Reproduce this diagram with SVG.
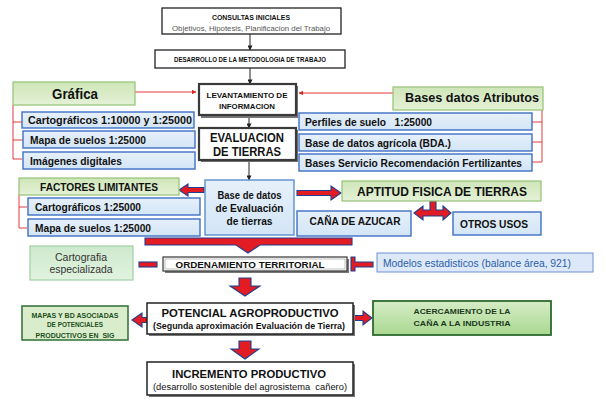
<svg xmlns="http://www.w3.org/2000/svg" width="605" height="404" viewBox="0 0 605 404">
<defs>
<linearGradient id="gGreen" x1="0" y1="0" x2="0" y2="1"><stop offset="0" stop-color="#cfe6b8"/><stop offset="1" stop-color="#e4f1d6"/></linearGradient>
<linearGradient id="gMint" x1="0" y1="0" x2="0" y2="1"><stop offset="0" stop-color="#cde9cd"/><stop offset="1" stop-color="#e2f3df"/></linearGradient>
<linearGradient id="gDeep" x1="0" y1="0" x2="0" y2="1"><stop offset="0" stop-color="#d6ecc6"/><stop offset="1" stop-color="#a9d890"/></linearGradient>
<linearGradient id="gBlue" x1="0" y1="0" x2="0" y2="1"><stop offset="0" stop-color="#e6f0fa"/><stop offset="1" stop-color="#d3e5f6"/></linearGradient>
<marker id="ab" viewBox="0 0 6 6" refX="5.5" refY="3" markerWidth="5" markerHeight="5" orient="auto"><path d="M0,0 L6,3 L0,6 z" fill="#222"/></marker>
<marker id="ar" viewBox="0 0 6 6" refX="5.5" refY="3" markerWidth="5" markerHeight="5" orient="auto"><path d="M0,0 L6,3 L0,6 z" fill="#e02424"/></marker>
</defs>
<style>
text{font-family:"Liberation Sans",Arial,sans-serif;text-anchor:middle;fill:#111;white-space:pre}
.b{font-weight:bold}
.blk{fill:#fff;stroke:#222;stroke-width:1.3}
.thk{fill:#fff;stroke:#3a3a3a;stroke-width:2.2}
.sh{fill:#777}
.grn{fill:url(#gGreen);stroke:#93c275;stroke-width:1.2}
.mint{fill:url(#gMint);stroke:#9fd0a5;stroke-width:1.2}
.dgrn{fill:#d9edcc;stroke:#2f6e35;stroke-width:1.5}
.deep{fill:url(#gDeep);stroke:#2d6a2d;stroke-width:1.8}
.blu{fill:url(#gBlue);stroke:#3f6fc4;stroke-width:1.4}
.fat{fill:#e31b23;stroke:#1f3f8f;stroke-width:1.1}
.thin{stroke:#222;stroke-width:1;fill:none;marker-end:url(#ab)}
.red{stroke:#e02424;stroke-width:0.9;fill:none}
.lt{text-anchor:start}
</style>

<g id="connectors">
<line class="thin" x1="250" y1="34" x2="250" y2="50"/>
<line class="thin" x1="250" y1="68" x2="250" y2="84"/>
<line class="thin" x1="249" y1="116" x2="249" y2="128"/>
<line class="thin" x1="249" y1="161" x2="249" y2="180"/>
<line class="red" x1="135" y1="92" x2="196" y2="92" style="marker-end:url(#ar)"/>
<line class="red" x1="393" y1="93" x2="299" y2="93" style="marker-end:url(#ar)"/>
<path class="red" d="M13,105 V159 H22 M13,122 H22 M13,140 H23"/>
<path class="red" d="M542,110 V162 H532 M542,122 H532 M542,142 H532"/>
<path class="red" d="M19,195 V228 H27 M19,207 H27"/>
<polygon class="fat" points="179,190 188,184 188,187.5 204,187.5 204,192.5 188,192.5 188,196"/>
<polygon class="fat" points="297,190.5 331,190.5 331,186 341,193 331,200 331,195.5 297,195.5"/>
<polygon class="fat" points="414,213 423,206 423,210 430,210 430,201 436,201 436,210 443,210 443,206 451,213 443,220 443,216 423,216 423,220"/>
<polygon class="fat" points="145,238 352,238 352,245 260,245 248,253 236,245 145,245"/>
<rect class="fat" x="139" y="262" width="18" height="5"/>
<polygon class="fat" points="351,257 355,257 355,262 373,262 373,267 355,267 355,271 351,271"/>
<polygon class="fat" points="239,278 251,278 251,286 260,286 245,296 230,286 239,286"/>
<polygon class="fat" points="239,341 251,341 251,349 259,349 245,359 231,349 239,349"/>
<polygon class="fat" points="132,320 142,313 142,317.5 158,317.5 158,322.5 142,322.5 142,327"/>
<polygon class="fat" points="345,315.5 363,315.5 363,311 372,318 363,325 363,320.5 345,320.5"/>
</g>

<g id="consultas">
<rect class="blk" x="162" y="8" width="179" height="26"/>
<text class="b" x="251" y="20" font-size="8" textLength="78" lengthAdjust="spacingAndGlyphs">CONSULTAS INICIALES</text>
<text x="251" y="30.5" font-size="7" style="fill:#555" textLength="158" lengthAdjust="spacingAndGlyphs">Objetivos, Hipotesis, Planificacion del Trabajo</text>
</g>

<g id="desarrollo">
<rect class="blk" x="155" y="50" width="190" height="18"/>
<text class="b" x="250" y="61.5" font-size="6.5" textLength="152" lengthAdjust="spacingAndGlyphs">DESARROLLO DE LA METODOLOGIA DE TRABAJO</text>
</g>

<g id="levantamiento">
<rect class="sh" x="201" y="86" width="97" height="32"/>
<rect class="thk" x="199" y="84" width="97" height="31"/>
<text class="b" x="247" y="98" font-size="8" textLength="81" lengthAdjust="spacingAndGlyphs">LEVANTAMIENTO DE</text>
<text class="b" x="247" y="109" font-size="8" textLength="56" lengthAdjust="spacingAndGlyphs">INFORMACION</text>
</g>

<g id="evaluacion">
<rect class="sh" x="201" y="130" width="97" height="32"/>
<rect class="thk" x="199" y="128" width="97" height="32"/>
<text class="b" x="247" y="142" font-size="12" textLength="74" lengthAdjust="spacingAndGlyphs">EVALUACION</text>
<text class="b" x="247" y="155.5" font-size="12" textLength="68" lengthAdjust="spacingAndGlyphs">DE TIERRAS</text>
</g>

<g id="grafica">
<rect class="grn" x="13" y="82" width="122" height="23"/>
<text class="b" x="75" y="99" font-size="15" textLength="46" lengthAdjust="spacingAndGlyphs">Gráfica</text>
</g>

<g id="bases-atributos">
<rect class="grn" x="393" y="87" width="150" height="23"/>
<text class="b" x="472" y="102" font-size="13" textLength="134" lengthAdjust="spacingAndGlyphs">Bases datos Atributos</text>
</g>

<g id="cart-10000">
<rect class="blu" x="22" y="112" width="172" height="16"/>
<text class="b lt" x="28" y="124" font-size="10.5" textLength="164" lengthAdjust="spacingAndGlyphs">Cartográficos 1:10000 y 1:25000</text>
</g>
<g id="mapa-suelos-1">
<rect class="blu" x="23" y="131" width="172" height="17"/>
<text class="b lt" x="30" y="143.5" font-size="10.5" textLength="116" lengthAdjust="spacingAndGlyphs">Mapa de suelos 1:25000</text>
</g>
<g id="imagenes">
<rect class="blu" x="23" y="152" width="172" height="17"/>
<text class="b lt" x="30" y="164.5" font-size="10.5" textLength="92" lengthAdjust="spacingAndGlyphs">Imágenes digitales</text>
</g>

<g id="perfiles">
<rect class="blu" x="299" y="113" width="233" height="17"/>
<text class="b lt" x="305" y="125.5" font-size="10.5" textLength="127" lengthAdjust="spacingAndGlyphs">Perfiles de suelo   1:25000</text>
</g>
<g id="bda">
<rect class="blu" x="299" y="134" width="233" height="17"/>
<text class="b lt" x="305" y="146.5" font-size="10.5" textLength="146" lengthAdjust="spacingAndGlyphs">Base de datos agrícola (BDA.)</text>
</g>
<g id="servicio">
<rect class="blu" x="299" y="154" width="233" height="17"/>
<text class="b lt" x="305" y="166.5" font-size="10.5" textLength="217" lengthAdjust="spacingAndGlyphs">Bases Servicio Recomendación Fertilizantes</text>
</g>

<g id="factores">
<rect class="grn" x="19" y="178" width="160" height="17"/>
<text class="b" x="99" y="190.5" font-size="11" textLength="118" lengthAdjust="spacingAndGlyphs">FACTORES LIMITANTES</text>
</g>
<g id="cart-25000">
<rect class="blu" x="28" y="198" width="172" height="17"/>
<text class="b lt" x="35" y="210.5" font-size="10.5" textLength="106" lengthAdjust="spacingAndGlyphs">Cartográficos 1:25000</text>
</g>
<g id="mapa-suelos-2">
<rect class="blu" x="28" y="219" width="172" height="17"/>
<text class="b lt" x="35" y="231.5" font-size="10.5" textLength="116" lengthAdjust="spacingAndGlyphs">Mapa de suelos 1:25000</text>
</g>

<g id="base-evaluacion">
<rect class="blu" x="205" y="180" width="89" height="55" style="stroke:#5a8ed2"/>
<text class="b" x="249.5" y="199" font-size="11" textLength="64" lengthAdjust="spacingAndGlyphs">Base de datos</text>
<text class="b" x="249.5" y="212" font-size="11" textLength="68" lengthAdjust="spacingAndGlyphs">de Evaluación</text>
<text class="b" x="249.5" y="225" font-size="11" textLength="46" lengthAdjust="spacingAndGlyphs">de tierras</text>
</g>

<g id="aptitud">
<rect class="grn" x="342" y="181" width="199" height="20"/>
<text class="b" x="442" y="196" font-size="12" textLength="170" lengthAdjust="spacingAndGlyphs">APTITUD FISICA DE TIERRAS</text>
</g>
<g id="cana-azucar">
<rect class="blu" x="297" y="211" width="114" height="25"/>
<text class="b" x="355" y="224.5" font-size="10" textLength="91" lengthAdjust="spacingAndGlyphs">CAÑA DE AZUCAR</text>
</g>
<g id="otros-usos">
<rect class="blu" x="453" y="212" width="88" height="23"/>
<text class="b" x="494" y="227.5" font-size="10" textLength="68" lengthAdjust="spacingAndGlyphs">OTROS USOS</text>
</g>

<g id="cartografia">
<rect class="mint" x="30" y="246" width="103" height="34"/>
<text x="81" y="260.5" font-size="10" style="fill:#333" textLength="52" lengthAdjust="spacingAndGlyphs">Cartografia</text>
<text x="81" y="272.5" font-size="10" style="fill:#333" textLength="63" lengthAdjust="spacingAndGlyphs">especializada</text>
</g>

<g id="ordenamiento">
<rect class="sh" x="165" y="259" width="184" height="14"/>
<rect x="163" y="257" width="184" height="14" fill="#fff" stroke="#444" stroke-width="1.3"/>
<rect x="165" y="259" width="180" height="10" fill="none" stroke="#999" stroke-width="0.6"/>
<text class="b" x="250" y="268" font-size="9" textLength="149" lengthAdjust="spacingAndGlyphs">ORDENAMIENTO TERRITORIAL</text>
</g>

<g id="modelos">
<rect x="377" y="253" width="216" height="19" fill="#dde8f8" stroke="#6f8fd6" stroke-width="1"/>
<text class="lt" x="383" y="267" font-size="10" style="fill:#2a5ea8" textLength="188" lengthAdjust="spacingAndGlyphs">Modelos estadisticos (balance área, 921)</text>
</g>

<g id="potencial">
<rect class="sh" x="149" y="305" width="206" height="31"/>
<rect class="blk" x="147" y="303" width="206" height="31" style="stroke-width:1.5"/>
<text class="b" x="250" y="317" font-size="11" textLength="177" lengthAdjust="spacingAndGlyphs">POTENCIAL AGROPRODUCTIVO</text>
<text class="b" x="249" y="329" font-size="8.5" textLength="192" lengthAdjust="spacingAndGlyphs">(Segunda aproximación Evaluación de Tierra)</text>
</g>

<g id="mapas-bd">
<rect class="dgrn" x="22" y="306" width="106" height="34"/>
<text class="b" x="75" y="317.5" font-size="6.5" style="fill:#234f20" textLength="87" lengthAdjust="spacingAndGlyphs">MAPAS Y BD ASOCIADAS</text>
<text class="b" x="75" y="327" font-size="6.5" style="fill:#234f20" textLength="56" lengthAdjust="spacingAndGlyphs">DE POTENCIALES</text>
<text class="b" x="75" y="337.5" font-size="6.5" style="fill:#234f20" textLength="79" lengthAdjust="spacingAndGlyphs">PRODUCTIVOS EN  SIG</text>
</g>

<g id="acercamiento">
<rect class="deep" x="373" y="301" width="178" height="34"/>
<text class="b" x="462" y="314" font-size="8" style="fill:#1c3a1c" textLength="97" lengthAdjust="spacingAndGlyphs">ACERCAMIENTO DE LA</text>
<text class="b" x="462" y="326" font-size="8" style="fill:#1c3a1c" textLength="97" lengthAdjust="spacingAndGlyphs">CAÑA A LA INDUSTRIA</text>
</g>

<g id="incremento">
<rect class="sh" x="149" y="364" width="206" height="33"/>
<rect class="blk" x="147" y="362" width="206" height="33" style="stroke-width:1.5"/>
<text class="b" x="249" y="378" font-size="11" textLength="154" lengthAdjust="spacingAndGlyphs">INCREMENTO PRODUCTIVO</text>
<text x="250" y="390" font-size="8.5" textLength="194" lengthAdjust="spacingAndGlyphs">(desarrollo sostenible del agrosistema  cañero)</text>
</g>
</svg>
